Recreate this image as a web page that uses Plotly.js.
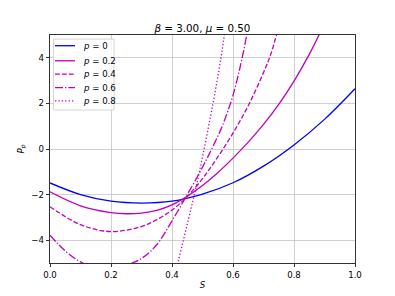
<!DOCTYPE html>
<html>
<head>
<meta charset="utf-8">
<script src="https://cdn.plot.ly/plotly-3.0.1.min.js"></script>
<style>html,body{margin:0;padding:0;background:#fff;}#chart{width:395px;height:296px;}</style>
</head>
<body>
<div id="chart"></div>
<script>
// Data
const legendNames = ["<i>p</i> = 0", "<i>p</i> = 0.2", "<i>p</i> = 0.4", "<i>p</i> = 0.6", "<i>p</i> = 0.8"];

const S_p0 = [0, 0.1, 0.2, 0.3, 0.4, 0.5, 0.6, 0.7, 0.8, 0.9, 1.0];
const P_p0 = [-1.49, -2.0, -2.29, -2.37, -2.29, -1.98, -1.48, -0.75, 0.18, 1.30, 2.64];

const S_p02 = [0, 0.1, 0.2, 0.25, 0.3, 0.35, 0.4, 0.45, 0.5, 0.55, 0.6, 0.65, 0.7, 0.75, 0.8, 0.85, 0.9];
const P_p02 = [-1.88, -2.49, -2.79, -2.84, -2.81, -2.69, -2.45, -2.07, -1.6, -1.04, -0.4, 0.3, 1.08, 1.96, 2.98, 4.15, 5.5];

const S_p04 = [0, 0.1, 0.2, 0.3, 0.35, 0.4, 0.45, 0.5, 0.55, 0.6, 0.65, 0.7, 0.725, 0.75];
const P_p04 = [-2.53, -3.32, -3.62, -3.4, -3.1, -2.68, -2.08, -1.3, -0.35, 0.7, 1.9, 3.35, 4.2, 5.4];

const S_p06 = [0, 0.05, 0.1, 0.15, 0.2, 0.25, 0.3, 0.35, 0.4, 0.45, 0.5, 0.53, 0.56, 0.58, 0.6, 0.62, 0.64, 0.66];
const P_p06 = [-3.78, -4.47, -4.95, -5.2, -5.27, -5.1, -4.8, -4.2, -3.15, -2.0, -0.8, 0, 0.85, 1.55, 2.35, 3.4, 4.65, 6.1];

const S_p08 = [0.35, 0.4, 0.42, 0.44, 0.46, 0.48, 0.5, 0.52, 0.54, 0.56, 0.58];
const P_p08 = [-9.0, -6.1, -4.95, -3.85, -2.75, -1.6, -0.35, 1.0, 2.4, 3.95, 5.8];

const xTickVals = [0, 0.2, 0.4, 0.6, 0.8, 1.0];
const yTickVals = [-4, -2, 0, 2, 4];

const FONT = "DejaVu Sans, sans-serif";
const BLUE = "#0000ff";
const MAG = "#bf00bf";
const LW = 1.3;

const styles = [
  {color: BLUE, dash: "solid"},
  {color: MAG, dash: "solid"},
  {color: MAG, dash: "4.8px,2.1px"},
  {color: MAG, dash: "8px,2px,1.3px,2px"},
  {color: MAG, dash: "1.3px,2.1px"}
];
const xs = [S_p0, S_p02, S_p04, S_p06, S_p08];
const ys = [P_p0, P_p02, P_p04, P_p06, P_p08];

const data = xs.map((x, i) => ({
  x: x, y: ys[i], name: legendNames[i], type: "scatter", mode: "lines",
  showlegend: false,
  line: {color: styles[i].color, width: LW, dash: styles[i].dash, shape: "spline", smoothing: 1}
}));

// Matplotlib-like compact legend built from shapes + annotations (paper = plot-area fractions)
const legX0 = 0.0115, legX1 = 0.2098, legY0 = 0.671, legY1 = 0.982;
const legRows = [0.953, 0.887, 0.828, 0.769, 0.711];
const sampleX0 = 0.0164, sampleX1 = 0.082, textX = 0.1016;

const shapes = [{
  type: "rect", xref: "paper", yref: "paper", layer: "above",
  x0: legX0, x1: legX1, y0: legY0, y1: legY1,
  fillcolor: "rgba(255,255,255,0.8)", line: {color: "#cccccc", width: 0.8}
}];
const annotations = [];
legendNames.forEach((name, i) => {
  shapes.push({
    type: "line", xref: "paper", yref: "paper", layer: "above",
    x0: sampleX0, x1: sampleX1, y0: legRows[i], y1: legRows[i],
    line: {color: styles[i].color, width: LW, dash: styles[i].dash}
  });
  annotations.push({
    xref: "paper", yref: "paper", x: textX, y: legRows[i],
    xanchor: "left", yanchor: "middle", showarrow: false,
    text: name, font: {family: FONT, size: 8.6, color: "#000"}
  });
});

const axisCommon = {
  showline: true, linecolor: "#000", linewidth: 0.8, mirror: true,
  ticks: "outside", ticklen: 3.5, tickwidth: 0.8, tickcolor: "#000",
  showgrid: true, gridcolor: "#c4c4c4", gridwidth: 0.8,
  zeroline: false,
  tickfont: {family: FONT, size: 8.6, color: "#000"}
};

const layout = {
  width: 395, height: 296,
  margin: {l: 50, r: 40, t: 35, b: 33, pad: 0},
  paper_bgcolor: "#fff", plot_bgcolor: "#fff",
  font: {family: FONT, size: 8.6, color: "#000"},
  title: {
    text: "<i>β</i> = 3.00, <i>μ</i> = 0.50",
    font: {family: FONT, size: 10.3, color: "#000"},
    x: 0.5125, xanchor: "center", y: 0.903, yanchor: "middle"
  },
  xaxis: Object.assign({}, axisCommon, {
    range: [0, 1], tickvals: xTickVals, tickformat: ".1f",
    title: {text: "<i>S</i>", font: {family: FONT, size: 8.6, color: "#000"}, standoff: 3}
  }),
  yaxis: Object.assign({}, axisCommon, {
    range: [-5, 5], tickvals: yTickVals,
    title: {text: "<i>P</i><sub><i>p</i></sub>", font: {family: FONT, size: 8.6, color: "#000"}, standoff: 5}
  }),
  showlegend: false,
  shapes: shapes,
  annotations: annotations
};

Plotly.newPlot("chart", data, layout, {staticPlot: true, displayModeBar: false});
</script>
</body>
</html>
